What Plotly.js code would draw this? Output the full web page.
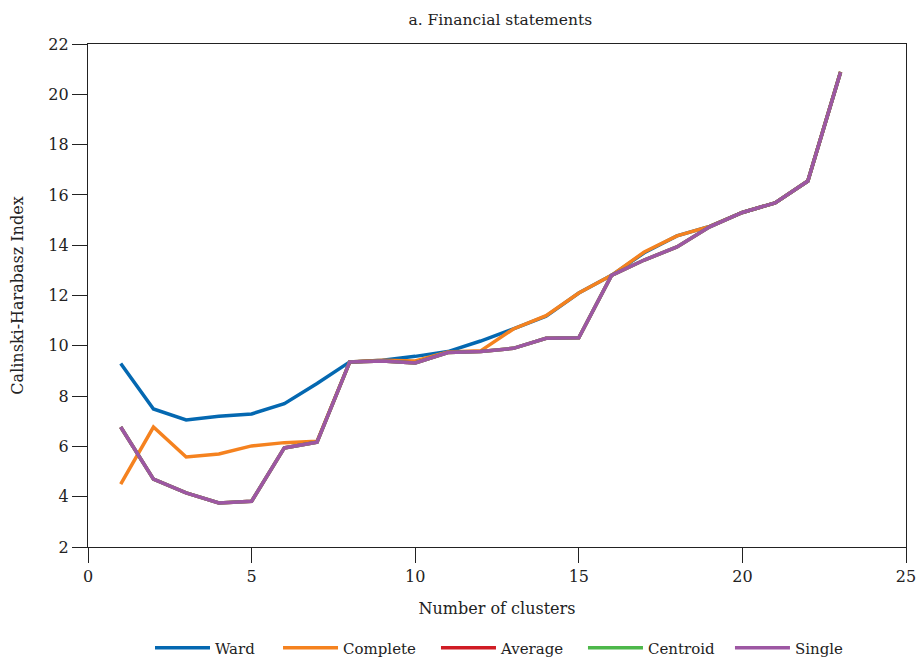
<!DOCTYPE html>
<html>
<head>
<meta charset="utf-8">
<script src="https://cdn.plot.ly/plotly-3.0.1.min.js"></script>
<style>html,body{margin:0;padding:0;background:#fff;}#chart{width:918px;height:660px;}</style>
</head>
<body>
<div id="chart"></div>
<script>
const clusters = [1,2,3,4,5,6,7,8,9,10,11,12,13,14,15,16,17,18,19,20,21,22,23];
const ward     = [9.3,7.49,7.05,7.2,7.29,7.7,8.5,9.36,9.43,9.58,9.77,10.19,10.67,11.18,12.1,12.8,13.7,14.37,14.75,15.3,15.68,16.55,20.9];
const complete = [4.5,6.77,5.58,5.7,6.02,6.15,6.2,9.36,9.43,9.4,9.75,9.8,10.67,11.2,12.1,12.8,13.73,14.37,14.75,15.3,15.68,16.55,20.9];
const single   = [6.77,4.7,4.15,3.75,3.82,5.94,6.17,9.36,9.4,9.32,9.73,9.77,9.9,10.3,10.32,12.8,13.41,13.93,14.73,15.3,15.68,16.55,20.88];
const average  = single.slice();
const centroid = single.slice();

const seriesNames = ['Ward','Complete','Average','Centroid','Single'];
const seriesData = [ward, complete, average, centroid, single];
const colors = ['#0468B1','#F5821F','#D01C24','#4DB84A','#9D57A3'];
const legendIds = ['legend','legend2','legend3','legend4','legend5'];
const legendX = [0.0758, 0.2323, 0.4254, 0.6051, 0.7848];

const traces = seriesData.map((d,i)=>({
  x: clusters, y: d, type:'scatter', mode:'lines', name: seriesNames[i],
  legend: legendIds[i],
  line:{color:colors[i], width:3.5}
}));

const fam = '"DejaVu Serif", serif';
const f = (s)=>({family:fam, size:s, color:'#222'});
const layout = {
  width:918, height:660,
  margin:{l:88, r:12, t:44, b:113, autoexpand:false},
  paper_bgcolor:'#fff', plot_bgcolor:'#fff',
  font:f(16),
  title:{text:'a. Financial statements', x:0.545, xanchor:'center', y:0.971, yanchor:'middle', font:f(15.5)},
  xaxis:{range:[0,25], tickvals:[0,5,10,15,20,25], showgrid:false, zeroline:false,
    showline:true, mirror:true, linecolor:'#222', linewidth:1.2, ticks:'outside', ticklen:15, tickcolor:'#222', tickwidth:1,
    tickfont:f(16),
    title:{text:'Number of clusters', font:f(16), standoff:17}},
  yaxis:{range:[2,22], tickvals:[2,4,6,8,10,12,14,16,18,20,22], showgrid:false, zeroline:false,
    showline:true, mirror:true, linecolor:'#222', linewidth:1.2, ticks:'outside', ticklen:15, tickcolor:'#222', tickwidth:1,
    tickfont:f(16),
    title:{text:'Calinski-Harabasz Index', font:f(16), standoff:20}},
  showlegend:true
};
legendIds.forEach((id,i)=>{
  layout[id] = {orientation:'h', x:legendX[i], xanchor:'left', yref:'container', y:0.018, yanchor:'middle',
    font:f(15), itemwidth:55, bgcolor:'rgba(0,0,0,0)'};
});
Plotly.newPlot('chart', traces, layout, {displayModeBar:false, staticPlot:true});
</script>
</body>
</html>
